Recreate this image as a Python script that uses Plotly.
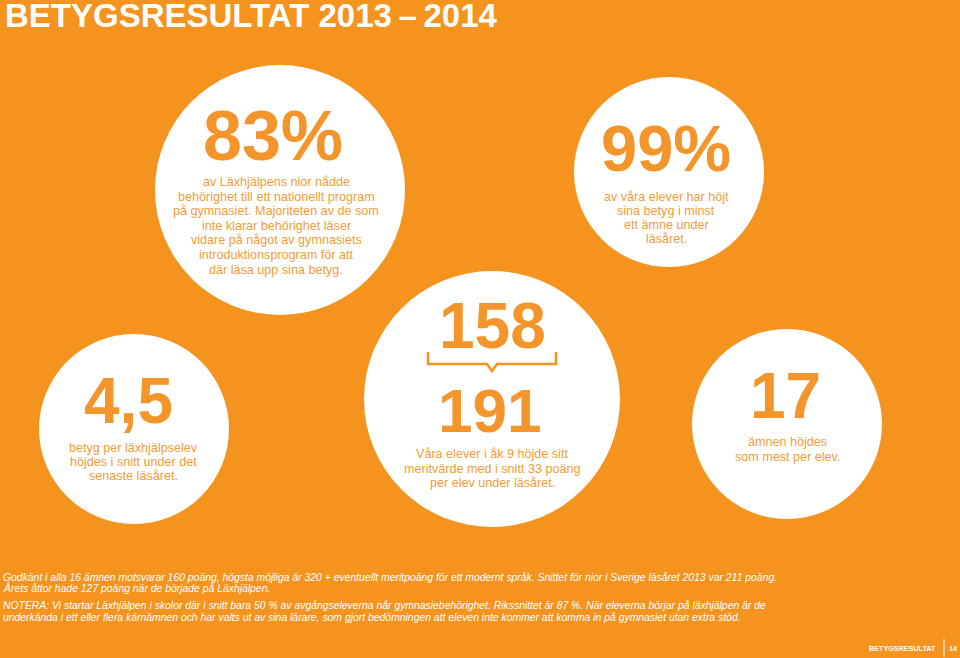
import plotly.graph_objects as go

# ---------------- data ----------------
title_text = "BETYGSRESULTAT 2013\u2009–\u20092014"
big_numbers = ["83%", "99%", "4,5", "158", "17"]
descriptions = [
    "av Läxhjälpens nior nådde<br>behörighet till ett nationellt program<br>på gymnasiet. Majoriteten av de som<br>inte klarar behörighet läser<br>vidare på något av gymnasiets<br>introduktionsprogram för att<br>där läsa upp sina betyg.",
    "av våra elever har höjt<br>sina betyg i minst<br>ett ämne under<br>läsåret.",
    "betyg per läxhjälpselev<br>höjdes i snitt under det<br>senaste läsåret.",
    "Våra elever i åk 9 höjde sitt<br>meritvärde med i snitt 33 poäng<br>per elev under läsåret.",
    "ämnen höjdes<br>som mest per elev.",
]
merit_after = "191"
footnotes = [
    "Godkänt i alla 16 ämnen motsvarar 160 poäng, högsta möjliga är 320 + eventuellt meritpoäng för ett modernt språk. Snittet för nior i Sverige läsåret 2013 var 211 poäng.",
    "Årets åttor hade 127 poäng när de började på Läxhjälpen.",
    "NOTERA: Vi startar Läxhjälpen i skolor där i snitt bara 50 % av avgångseleverna når gymnasiebehörighet. Rikssnittet är 87 %. När eleverna börjar på läxhjälpen är de",
    "underkända i ett eller flera kärnämnen och har valts ut av sina lärare, som gjort bedömningen att eleven inte kommer att komma in på gymnasiet utan extra stöd.",
]
footer_label = "BETYGSRESULTAT"
page_number = "14"

# ---------------- layout / style ----------------
ORANGE = "#F5931F"
BIG = "#F3952A"
TXT = "#F29C38"
FONT = "Liberation Sans, Arial, sans-serif"

# circle geometry (cx, cy, r) in page pixels
circles = [(280, 190, 125), (669, 172, 95), (134, 429, 95), (492, 399, 128), (787, 424, 95)]
big_pos = [(273, 136, 70), (666, 148, 65), (128, 401, 64), (492, 326, 64), (785, 396, 64)]
# (center x, first line y, line spacing, font size)
desc_pos = [(276, 182, 14.6, 12.6), (666, 197, 13.9, 12.6), (133, 448, 14.2, 12.6),
            (492, 454, 14.7, 12.6), (787, 442, 15, 12.6)]
footnote_y = [577, 588, 605, 617]

fig = go.Figure()
fig.add_trace(go.Scatter(x=[0, 960], y=[0, 658], mode="markers",
                         marker=dict(opacity=0), hoverinfo="skip", showlegend=False))

shapes = []
for cx, cy, r in circles:
    shapes.append(dict(type="circle", xref="x", yref="y", x0=cx - r, x1=cx + r,
                       y0=cy - r, y1=cy + r, fillcolor="white", line=dict(width=0),
                       layer="below"))
# bracket between 158 and 191
shapes.append(dict(type="path", xref="x", yref="y",
                   path="M 428 352 L 428 364 L 487 364 L 492 371 L 497 364 L 556 364 L 556 352",
                   line=dict(color=ORANGE, width=2.5)))
# footer divider
shapes.append(dict(type="line", xref="x", yref="y", x0=944, x1=944, y0=639, y1=657,
                   line=dict(color="white", width=1)))

ann = []
ann.append(dict(x=3, y=15, text="<b>" + title_text + "</b>", xanchor="left", yanchor="middle",
                font=dict(family=FONT, size=33, color="white")))
for (x, y, s), t in zip(big_pos, big_numbers):
    ann.append(dict(x=x, y=y, text="<b>" + t + "</b>", xanchor="center", yanchor="middle",
                    font=dict(family=FONT, size=s, color=BIG)))
ann.append(dict(x=489, y=410, text="<b>" + merit_after + "</b>", xanchor="center", yanchor="middle",
                font=dict(family=FONT, size=62, color=BIG)))
for (x, y0, dy, s), t in zip(desc_pos, descriptions):
    for i, line in enumerate(t.split("<br>")):
        ann.append(dict(x=x, y=y0 + i * dy, text=line, xanchor="center", yanchor="middle",
                        font=dict(family=FONT, size=s, color=TXT)))
for y, t in zip(footnote_y, footnotes):
    ann.append(dict(x=1, y=y, text="<i>" + t + "</i>", xanchor="left", yanchor="middle",
                    font=dict(family=FONT, size=10.4, color="white")))
ann.append(dict(x=938, y=648, text="<b>" + footer_label + "</b>", xanchor="right", yanchor="middle",
                font=dict(family=FONT, size=7.2, color="white")))
ann.append(dict(x=959, y=648, text="<b>" + page_number + "</b>", xanchor="right", yanchor="middle",
                font=dict(family=FONT, size=7.2, color="white")))
for a in ann:
    a.update(xref="x", yref="y", showarrow=False)

fig.update_layout(
    width=960, height=658, margin=dict(l=0, r=0, t=0, b=0),
    paper_bgcolor=ORANGE, plot_bgcolor=ORANGE,
    xaxis=dict(range=[0, 960], visible=False, fixedrange=True),
    yaxis=dict(range=[658, 0], visible=False, fixedrange=True),
    shapes=shapes, annotations=ann, showlegend=False,
)
fig.write_html("out.html", config={"displayModeBar": False},
               post_script="document.body.style.margin='0';document.body.style.overflow='hidden';")
